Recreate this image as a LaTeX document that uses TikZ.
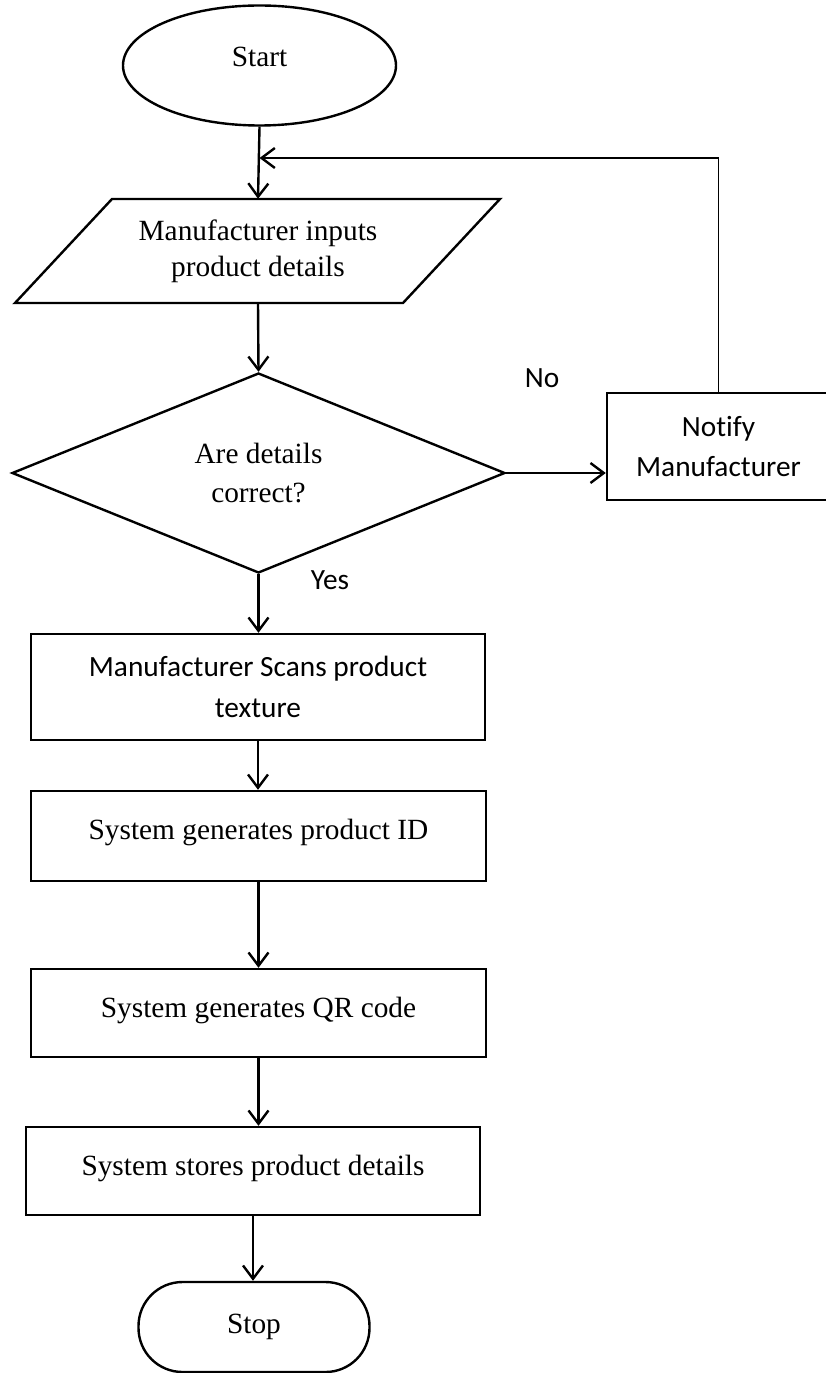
\documentclass[tikz,border=0pt]{standalone}
\usepackage{fontspec}
\setmainfont{Liberation Serif}
\newfontfamily\calibri[Ligatures=NoCommon]{Carlito}
\usetikzlibrary{shapes.geometric,arrows.meta}

\begin{document}
\begin{tikzpicture}[x=0.75pt,y=-0.75pt,
  outline/.style={draw, line width=1.8pt, inner sep=0pt},
  serif/.style={font=\fontsize{22}{29}\selectfont, align=center},
  sans/.style={font=\calibri\fontsize{22}{30.5}\selectfont, align=center},
  procbox/.style={outline, rectangle},
  flow/.style={line width=1.8pt, -{Straight Barb[length=10pt,width=15pt,line width=1.8pt]}},
  plain/.style={line width=1.8pt},
  thinline/.style={line width=0.9pt}
]
\useasboundingbox (0,0) rectangle (825,1373);

% terminals
\node[outline, ellipse, serif, minimum width=0.75pt*273, minimum height=0.75pt*120]
  (start) at (259.5,65.5) {\raisebox{13pt}{Start}};
\node[outline, rectangle, rounded corners=33pt, serif,
  minimum width=0.75pt*231, minimum height=0.75pt*90]
  (stop) at (254,1327) {Stop};

% input parallelogram
\node[serif, minimum width=0.75pt*388, minimum height=0.75pt*104, inner sep=0pt]
  (input) at (258,251) {\raisebox{2.5pt}{\shortstack{Manufacturer inputs\\[4pt]product details}}};
\draw[plain, line join=miter] (112,199) -- (500,199) -- (403,303) -- (15,303) -- cycle;

% decision
\node[outline, diamond, aspect=2.5, serif, minimum width=0.75pt*493, minimum height=0.75pt*200]
  (check) at (258.5,473) {Are details\\correct?};

% notification
\node[procbox, sans, minimum width=0.75pt*223, minimum height=0.75pt*107]
  (notify) at (718.5,446.5) {Notify\\Manufacturer};

% process steps
\node[procbox, sans, minimum width=0.75pt*454, minimum height=0.75pt*106]
  (scan) at (258,687) {Manufacturer Scans product\\texture};
\node[procbox, serif, minimum width=0.75pt*455, minimum height=0.75pt*90]
  (genid) at (258.5,836) {\raisebox{10pt}{System generates product ID}};
\node[procbox, serif, minimum width=0.75pt*455, minimum height=0.75pt*88]
  (genqr) at (258.5,1013) {\raisebox{9pt}{System generates QR code}};
\node[procbox, serif, minimum width=0.75pt*454, minimum height=0.75pt*88]
  (store) at (253,1171) {\raisebox{8pt}{System stores product details}};

% branch labels
\node[sans] (nolabel) at (542,378) {No};
\node[sans] (yeslabel) at (330,580) {Yes};

% connectors
\coordinate (join) at (259.5,158);
\draw[flow] (start.south) -- (input.north);
\draw[thinline] (notify.north) -- (notify.north |- join);
\draw[flow] (notify.north |- join) -- (join);
\draw[flow] (input.south) -- (check.north);
\draw[flow] (check.east) -- (check.east -| notify.west);
\draw[flow] (check.south) -- (check.south |- scan.north);
\draw[flow] (scan.south) -- (scan.south |- genid.north);
\draw[flow] (genid.south) -- (genid.south |- genqr.north);
\draw[flow] (genqr.south) -- (genqr.south |- store.north);
\draw[flow] (store.south) -- (store.south |- stop.north);
\end{tikzpicture}
\end{document}
